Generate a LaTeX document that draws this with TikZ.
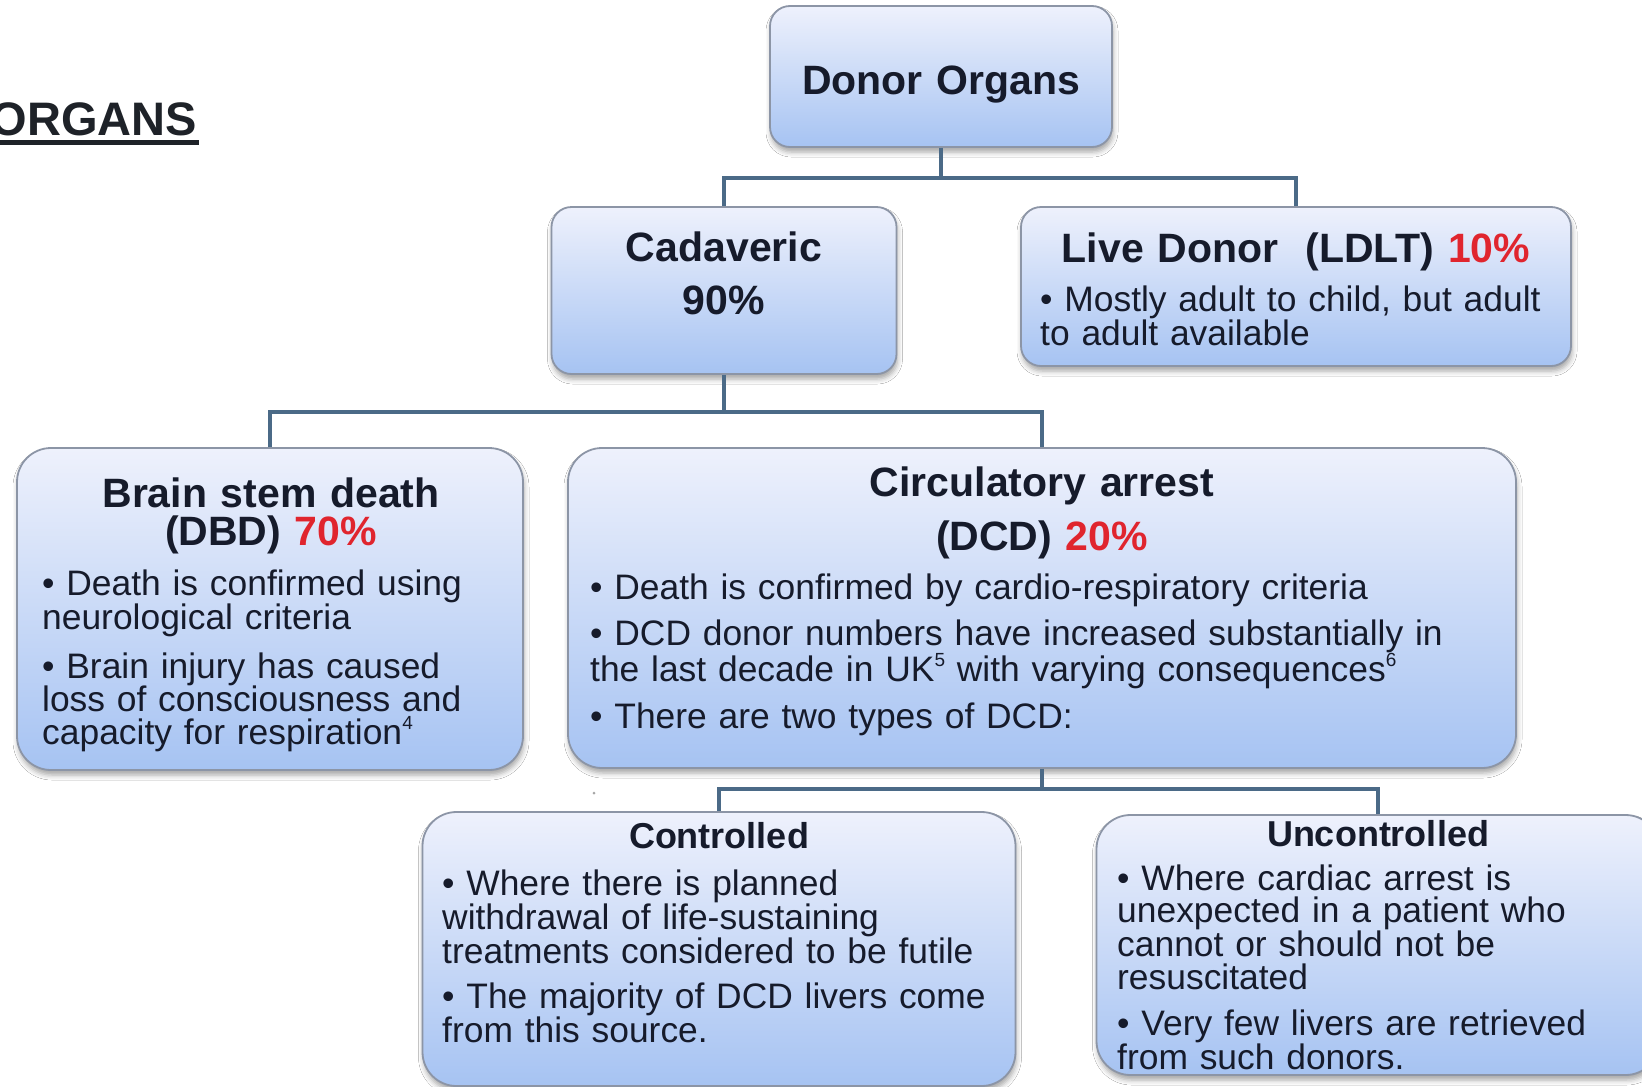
\documentclass[tikz,border=0pt]{standalone}
\usepackage{fontspec}
\setmainfont{Liberation Sans}
\usetikzlibrary{shadows.blur}
\definecolor{txt}{HTML}{161B2B}
\definecolor{redpc}{HTML}{E0252E}
\definecolor{connc}{HTML}{4B6A87}
\definecolor{boxline}{HTML}{8C95A6}
\definecolor{boxtop}{HTML}{EEF1FC}
\definecolor{boxbot}{HTML}{A6C3F2}
\definecolor{titlec}{HTML}{1E2228}
\newcommand\mysup[1]{\raisebox{0.42em}{\fontsize{19}{19}\selectfont #1}}
\begin{document}
\begin{tikzpicture}[x=1pt,y=-1pt,
  orgbox/.style={draw=boxline, line width=1.8pt, rounded corners=#1,
    top color=boxtop, bottom color=boxbot, inner sep=0pt,
    blur shadow={shadow xshift=1pt, shadow yshift=-5pt, shadow blur radius=5pt, shadow opacity=35}},
  orgbox/.default=20pt,
  conn/.style={draw=connc, line width=4pt},
  headtxt/.style={font=\fontsize{41}{53}\selectfont\bfseries, text=txt, inner sep=0pt,
    text width=900pt, align=center, anchor=base},
  bodytxt/.style={font=\fontsize{35.4}{33}\selectfont, text=txt, inner sep=0pt,
    text width=1000pt, align=left, anchor=base west}
]
\useasboundingbox (0,0) rectangle (1642,1087);
\clip (0,0) rectangle (1642,1087);
\fill[white] (0,0) rectangle (1642,1087);

% title
\node[font=\fontsize{47}{50}\selectfont\bfseries, text=titlec, anchor=base east, inner sep=0pt] (title) at (197,135) {ORGANS};
\draw[titlec, line width=5pt] (0,142) -- (199,142);

% junction coordinates
\coordinate (j1) at (0,178);
\coordinate (j2) at (0,412);
\coordinate (j3) at (0,789);

% boxes
\node[orgbox, minimum width=342pt, minimum height=141pt] (donor) at (941,76.5) {};
\node[orgbox, minimum width=345pt, minimum height=167pt] (cad) at (724,290.5) {};
\node[orgbox, minimum width=550pt, minimum height=159pt] (live) at (1296,286.5) {};
\node[orgbox=34pt, minimum width=506pt, minimum height=322pt] (brain) at (270,609) {};
\node[orgbox=34pt, minimum width=948pt, minimum height=320pt] (circ) at (1042,608) {};
\node[orgbox=34pt, minimum width=593pt, minimum height=274pt] (ctrl) at (719,949) {};
\node[orgbox=34pt, minimum width=563pt, minimum height=260pt] (unc) at (1378,945) {};

% connectors
\draw[conn] (donor.south) -- (donor.south |- j1);
\draw[conn] (cad.north) -- (cad.north |- j1) -- (live.north |- j1) -- (live.north);
\draw[conn] (cad.south) -- (cad.south |- j2);
\draw[conn] (brain.north) -- (brain.north |- j2) -- (circ.north |- j2) -- (circ.north);
\draw[conn] (circ.south) -- (circ.south |- j3);
\draw[conn] (ctrl.north) -- (ctrl.north |- j3) -- (unc.north |- j3) -- (unc.north);

% texts
\node[headtxt] (tdonor) at (941,94) {Donor Organs};
\node[headtxt] (tcad) at (724,261) {Cadaveric\\90\%};
\node[headtxt] (tlive) at (1296,262) {Live Donor\ \ (LDLT) \textcolor{redpc}{10\%}};
\node[bodytxt, font=\fontsize{35.4}{32}\selectfont] (blive) at (1040,311) {• Mostly adult to child, but adult\\to adult available};

\node[headtxt, font=\fontsize{41}{38}\selectfont\bfseries] (tbrain) at (271,507) {Brain stem death\\(DBD) \textcolor{redpc}{70\%}};
\node[bodytxt, font=\fontsize{35.4}{32.5}\selectfont] (bbrain) at (42,595) {• Death is confirmed using\\neurological criteria\\[15pt]• Brain injury has caused\\loss of consciousness and\\capacity for respiration\mysup{4}};

\node[headtxt, font=\fontsize{41}{54}\selectfont\bfseries] (tcirc) at (1042,496) {Circulatory arrest\\(DCD) \textcolor{redpc}{20\%}};
\node[bodytxt] (bcirc) at (590,599) {• Death is confirmed by cardio-respiratory criteria\\[13pt]• DCD donor numbers have increased substantially in\\the last decade in UK\mysup{5} with varying consequences\mysup{6}\\[14pt]• There are two types of DCD:};

\node[headtxt, font=\fontsize{36}{40}\selectfont\bfseries] (tctrl) at (719,848) {Controlled};
\node[bodytxt, font=\fontsize{35.4}{32.5}\selectfont] (bctrl) at (442,895) {• Where there is planned\\withdrawal of life-sustaining\\treatments considered to be futile\\[13pt]• The majority of DCD livers come\\from this source.};

\node[headtxt, font=\fontsize{36}{40}\selectfont\bfseries] (tunc) at (1378,846) {Uncontrolled};
\node[bodytxt, font=\fontsize{35.4}{32.7}\selectfont] (bunc) at (1117,890) {• Where cardiac arrest is\\unexpected in a patient who\\cannot or should not be\\resuscitated\\[13pt]• Very few livers are retrieved\\from such donors.};

\fill[gray!70] (594,793) circle (1.5pt);
\end{tikzpicture}
\end{document}
